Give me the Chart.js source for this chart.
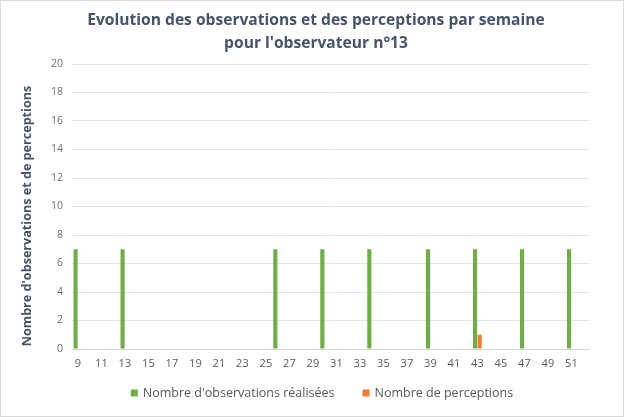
<!DOCTYPE html>
<html>
<head>
<meta charset="utf-8">
<script src="https://cdn.jsdelivr.net/npm/chart.js@4.4.0/dist/chart.umd.min.js"></script>
<style>
  html, body { margin:0; padding:0; background:#fff; }
  #wrap { position:relative; width:624px; height:417px; }
</style>
</head>
<body>
<div id="wrap"><canvas id="c"></canvas></div>
<script>
// weeks 9..52
const weeks = [9,10,11,12,13,14,15,16,17,18,19,20,21,22,23,24,25,26,27,28,29,30,31,32,33,34,35,36,37,38,39,40,41,42,43,44,45,46,47,48,49,50,51,52];
const observations = [7,0,0,0,7,0,0,0,0,0,0,0,0,0,0,0,0,7,0,0,0,7,0,0,0,7,0,0,0,0,7,0,0,0,7,0,0,0,7,0,0,0,7,0];
const perceptions  = [0,0,0,0,0,0,0,0,0,0,0,0,0,0,0,0,0,0,0,0,0,0,0,0,0,0,0,0,0,0,0,0,0,0,1,0,0,0,0,0,0,0,0,0];
const seriesNames = ["Nombre d'observations réalisées", "Nombre de perceptions"];
const titleLines = ["Evolution des observations et des perceptions par semaine", "pour l'observateur n°13"];
const yTitle = "Nombre d'observations et de perceptions";

const font = "'Open Sans', 'Liberation Sans', sans-serif";

// title, y title, legend and frame drawn Excel-style
const excelText = {
  id: 'excelText',
  afterDraw(chart) {
    const c = chart.ctx, W = chart.width, H = chart.height;
    c.save();
    c.strokeStyle = '#d9d9d9'; c.lineWidth = 1;
    c.strokeRect(0.5, 0.5, W - 1, H - 1);

    c.fillStyle = '#44546A';
    c.textAlign = 'center'; c.textBaseline = 'middle';
    c.font = "bold 15.6px " + font;
    c.fillText(titleLines[0], 316, 21);
    c.fillText(titleLines[1], 316, 44);

    c.save();
    c.translate(27, 216);
    c.rotate(-Math.PI / 2);
    c.font = "bold 12.6px " + font;
    c.fillText(yTitle, 0, 0);
    c.restore();

    c.font = "12.5px " + font;
    c.textAlign = 'left';
    const ds = chart.data.datasets;
    const widths = ds.map(d => c.measureText(d.label).width);
    const box = 7, gap = 5, spacing = 28;
    const total = widths.reduce((s, w) => s + box + gap + w, 0) + spacing * (ds.length - 1);
    let x = 322 - total / 2;
    const y = 393;
    ds.forEach((d, i) => {
      c.fillStyle = d.backgroundColor;
      c.fillRect(x, y - box / 2, box, box);
      c.fillStyle = '#595959';
      c.fillText(d.label, x + box + gap, y + 0.5);
      x += box + gap + widths[i] + spacing;
    });
    c.restore();
  }
};

const ctx = document.getElementById('c');
new Chart(ctx, {
  type: 'bar',
  data: {
    labels: weeks,
    datasets: [
      { label: seriesNames[0], data: observations, backgroundColor: '#70AD47', categoryPercentage: 0.78, barPercentage: 0.9 },
      { label: seriesNames[1], data: perceptions, backgroundColor: '#ED7D31', categoryPercentage: 0.78, barPercentage: 0.9 }
    ]
  },
  options: {
    responsive: true,
    maintainAspectRatio: false,
    animation: false,
    layout: { padding: { left: 51, right: 35, top: 64, bottom: 49 } },
    plugins: {
      title: { display: false },
      legend: { display: false },
      tooltip: { enabled: false }
    },
    scales: {
      x: {
        grid: { display: false, drawTicks: false },
        border: { color: '#d9d9d9' },
        afterFit: s => { s.height = 19; },
        ticks: {
          color: '#595959', font: { family: font, size: 11 }, autoSkip: false, maxRotation: 0, padding: 8,
          callback: (v, i) => (i % 2 === 0 ? weeks[i] : '')
        }
      },
      y: {
        min: 0, max: 20,
        afterFit: s => { s.width = 21; },
        ticks: { stepSize: 2, color: '#6f6f6f', font: { family: font, size: 10.5 }, padding: 9 },
        grid: { color: '#e4e4e4', drawTicks: false },
        border: { display: false }
      }
    }
  },
  plugins: [excelText]
});
</script>
</body>
</html>
